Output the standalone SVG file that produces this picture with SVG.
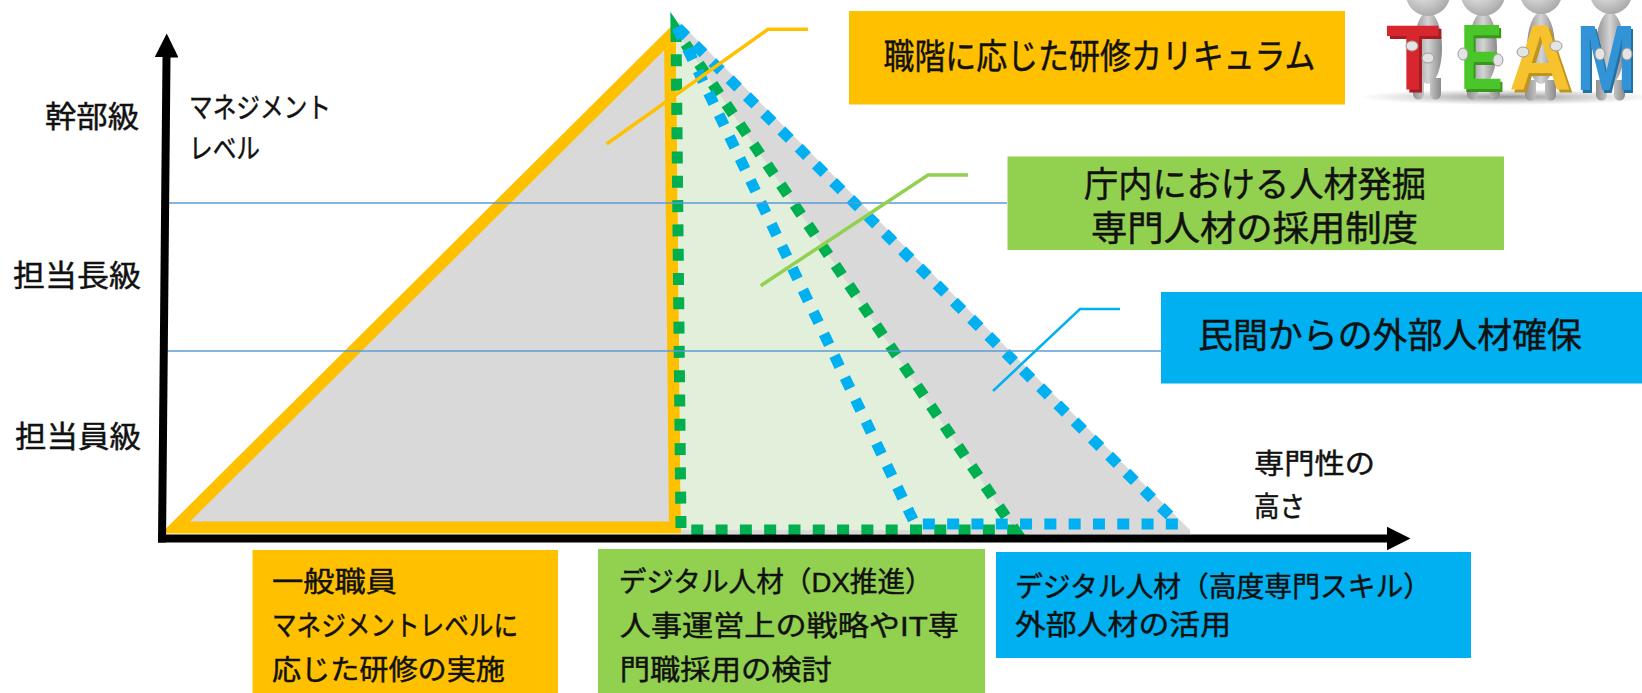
<svg xmlns="http://www.w3.org/2000/svg" width="1642" height="693" viewBox="0 0 1642 693">
  <defs>
    <marker id="arrowhead" markerUnits="userSpaceOnUse" markerWidth="24" markerHeight="24" viewBox="0 0 24 24" refX="0.5" refY="12" orient="auto">
      <path d="M0,0 L24,12 L0,24 Z" fill="#000"/>
    </marker>
    <radialGradient id="headGrad" cx="40%" cy="35%" r="70%">
      <stop offset="0" stop-color="#f5f5f5"/>
      <stop offset="1" stop-color="#a6a6a6"/>
    </radialGradient>
    <linearGradient id="bodyGrad" x1="0" x2="1" y1="0" y2="0">
      <stop offset="0" stop-color="#8f8f8f"/>
      <stop offset="0.5" stop-color="#d4d4d4"/>
      <stop offset="1" stop-color="#8a8a8a"/>
    </linearGradient>
    <radialGradient id="shadowGrad">
      <stop offset="0" stop-color="#6f6f6f" stop-opacity="0.75"/>
      <stop offset="1" stop-color="#9a9a9a" stop-opacity="0"/>
    </radialGradient>
    <!-- extruded look for the block letters: a darkened offset copy behind each glyph -->
    <filter id="depth" x="0" y="0" width="1.1" height="1.06">
      <feOffset in="SourceGraphic" dx="3" dy="3" result="off"/>
      <feColorMatrix in="off" type="matrix" values="0.55 0 0 0 0  0 0.55 0 0 0  0 0 0.55 0 0  0 0 0 1 0" result="dark"/>
      <feMerge>
        <feMergeNode in="dark"/>
        <feMergeNode in="SourceGraphic"/>
      </feMerge>
    </filter>
  </defs>
  <style>
    .axis { stroke: #000; stroke-width: 8; fill: none; marker-end: url(#arrowhead); }
    .grid { stroke: #5B9BD5; stroke-width: 1.5; }
    .lbl { font-family: "Liberation Sans", "Noto Sans CJK JP", "Noto Sans CJK SC", sans-serif; fill: #111; stroke: #111; stroke-width: 0.45; }
    .s28 { font-size: 28px; }
    .s30 { font-size: 30px; }
    .s35 { font-size: 35px; }
    .yellow { fill: #FFC000; }
    .green { fill: #92D050; }
    .blue { fill: #00B0F0; }
    .dot-green { fill: none; stroke: #00B050; stroke-width: 11; stroke-dasharray: 12 12.3; }
    .dot-blue { fill: none; stroke: #00B0F0; stroke-width: 11; stroke-dasharray: 12 12.3; }
    .team { font-family: "Liberation Sans", Arial, sans-serif; font-weight: bold; font-size: 92px; filter: url(#depth); }
    .hand { fill: #e4e4e4; stroke: #9a9a9a; stroke-width: 1; }
    .body { fill: url(#bodyGrad); }
  </style>

  <!-- talent pyramids -->
  <g id="range-external-bg">
    <polygon points="679,22 1190,530 1190,534 681,534" fill="#D9D9D9"/>
  </g>
  <g id="range-general">
    <polygon points="175.5,527.5 670,36 675,527.5" fill="#D9D9D9" stroke="#FFC000" stroke-width="12"/>
  </g>
  <g id="range-digital">
    <polygon points="676,30 681,530 1015,530" fill="#E2EFDA"/>
    <polygon class="dot-green" points="676,30 681,530 1015,530"/>
  </g>
  <g id="range-external">
    <polygon class="dot-blue" points="677,27 915,524 1178,524"/>
  </g>

  <!-- grade boundaries -->
  <g id="grade-lines">
    <line class="grid" x1="163" y1="203" x2="1007" y2="203"/>
    <line class="grid" x1="163" y1="351" x2="1161" y2="351"/>
  </g>

  <!-- axes -->
  <g id="axes">
    <line class="axis" x1="162" y1="542.5" x2="166.5" y2="57"/>
    <line class="axis" x1="158" y1="538.5" x2="1387" y2="538.5"/>
  </g>

  <g id="axis-labels">
    <text class="lbl s30" x="139" y="127" text-anchor="end" textLength="94" lengthAdjust="spacingAndGlyphs">幹部級</text>
    <text class="lbl s30" x="141" y="286" text-anchor="end" textLength="128" lengthAdjust="spacingAndGlyphs">担当長級</text>
    <text class="lbl s30" x="141" y="447" text-anchor="end" textLength="126" lengthAdjust="spacingAndGlyphs">担当員級</text>
    <text class="lbl s28" x="189" y="117.5" textLength="142" lengthAdjust="spacingAndGlyphs">マネジメント</text>
    <text class="lbl s28" x="189" y="158.5" textLength="71" lengthAdjust="spacingAndGlyphs">レベル</text>
    <text class="lbl s28" x="1254" y="473.6" textLength="121" lengthAdjust="spacingAndGlyphs">専門性の</text>
    <text class="lbl s28" x="1254" y="517.3" textLength="51" lengthAdjust="spacingAndGlyphs">高さ</text>
  </g>

  <!-- callout leaders -->
  <g id="connectors" fill="none">
    <polyline points="606.7,144 768,29.3 808,29.3" stroke="#FFC000" stroke-width="3.5"/>
    <polyline points="760.7,285.7 928,175 968,175" stroke="#92D050" stroke-width="3.5"/>
    <polyline points="993,391 1080,309 1120,309" stroke="#00B0F0" stroke-width="2.5"/>
  </g>

  <!-- measure boxes -->
  <g id="box-curriculum">
    <rect class="yellow" x="849" y="11" width="496" height="93.5"/>
    <text class="lbl s35" x="883.5" y="69.3" textLength="432" lengthAdjust="spacingAndGlyphs">職階に応じた研修カリキュラム</text>
  </g>
  <g id="box-internal">
    <rect class="green" x="1007.5" y="156.5" width="496.5" height="93.5"/>
    <text class="lbl s35" x="1084" y="197.3" textLength="342" lengthAdjust="spacingAndGlyphs">庁内における人材発掘</text>
    <text class="lbl s35" x="1091" y="241.3" textLength="327" lengthAdjust="spacingAndGlyphs">専門人材の採用制度</text>
  </g>
  <g id="box-external">
    <rect class="blue" x="1161" y="292" width="481" height="91.5"/>
    <text class="lbl s35" x="1198" y="348.3" textLength="384" lengthAdjust="spacingAndGlyphs">民間からの外部人材確保</text>
  </g>

  <g id="box-general">
    <rect class="yellow" x="252.5" y="550" width="305.5" height="143"/>
    <text class="lbl s28" x="272" y="592.3" textLength="125" lengthAdjust="spacingAndGlyphs">一般職員</text>
    <text class="lbl s28" x="272" y="636" textLength="246" lengthAdjust="spacingAndGlyphs">マネジメントレベルに</text>
    <text class="lbl s28" x="272" y="679.6" textLength="233" lengthAdjust="spacingAndGlyphs">応じた研修の実施</text>
  </g>
  <g id="box-dx">
    <rect class="green" x="598" y="549" width="387" height="144"/>
    <text class="lbl s28" x="618.7" y="592.3" textLength="314" lengthAdjust="spacingAndGlyphs">デジタル人材（DX推進）</text>
    <text class="lbl s28" x="619.8" y="635.6" textLength="339" lengthAdjust="spacingAndGlyphs">人事運営上の戦略やIT専</text>
    <text class="lbl s28" x="619.8" y="679.6" textLength="212" lengthAdjust="spacingAndGlyphs">門職採用の検討</text>
  </g>
  <g id="box-expert">
    <rect class="blue" x="996" y="552" width="475" height="106"/>
    <text class="lbl s28" x="1015" y="597.3" textLength="416" lengthAdjust="spacingAndGlyphs">デジタル人材（高度専門スキル）</text>
    <text class="lbl s28" x="1015" y="634.9" textLength="216" lengthAdjust="spacingAndGlyphs">外部人材の活用</text>
  </g>

  <!-- team illustration: little figures holding letters -->
  <g id="team-illustration">
    <ellipse cx="1508" cy="97" rx="150" ry="8" fill="url(#shadowGrad)"/>
    <!-- torsos and legs -->
    <ellipse class="body" cx="1428" cy="48" rx="14" ry="36"/>
    <path class="body" d="M1413,78 h11 v16 a5.5,5.5 0 0 1 -11,0 Z M1430,78 h11 v16 a5.5,5.5 0 0 1 -11,0 Z"/>
    <ellipse class="body" cx="1483" cy="48" rx="14" ry="36"/>
    <path class="body" d="M1467,80 h11 v14 a5.5,5.5 0 0 1 -11,0 Z M1489,80 h11 v14 a5.5,5.5 0 0 1 -11,0 Z"/>
    <ellipse class="body" cx="1541" cy="48" rx="14" ry="36"/>
    <path class="body" d="M1525,80 h11 v15 a5.5,5.5 0 0 1 -11,0 Z M1545,80 h11 v15 a5.5,5.5 0 0 1 -11,0 Z"/>
    <ellipse class="body" cx="1610" cy="48" rx="14" ry="36"/>
    <path class="body" d="M1596,80 h11 v15 a5.5,5.5 0 0 1 -11,0 Z M1614,80 h11 v15 a5.5,5.5 0 0 1 -11,0 Z"/>
    <!-- heads -->
    <circle cx="1428" cy="-6" r="22" fill="url(#headGrad)"/>
    <circle cx="1483" cy="-6" r="22" fill="url(#headGrad)"/>
    <circle cx="1541" cy="-7" r="21" fill="url(#headGrad)"/>
    <circle cx="1611" cy="-7" r="21" fill="url(#headGrad)"/>
    <!-- letters, narrowed horizontally -->
    <text class="team" transform="translate(1386 90) scale(0.95 1)" fill="#d8282f">T</text>
    <text class="team" transform="translate(1460 89) scale(0.7 1)" fill="#4cc62a">E</text>
    <text class="team" transform="translate(1509 89) scale(0.94 1)" fill="#f6c22f">A</text>
    <text class="team" transform="translate(1576 90) scale(0.78 1)" fill="#3194d6">M</text>
    <!-- hands -->
    <ellipse class="hand" cx="1412" cy="46" rx="6" ry="5"/>
    <ellipse class="hand" cx="1428" cy="58" rx="6" ry="5"/>
    <ellipse class="hand" cx="1463" cy="54" rx="5" ry="6"/>
    <ellipse class="hand" cx="1498" cy="60" rx="5" ry="6"/>
    <ellipse class="hand" cx="1523" cy="52" rx="6" ry="5"/>
    <ellipse class="hand" cx="1556" cy="46" rx="6" ry="5"/>
    <ellipse class="hand" cx="1600" cy="54" rx="5" ry="6"/>
    <ellipse class="hand" cx="1627" cy="54" rx="5" ry="6"/>
  </g>
</svg>
